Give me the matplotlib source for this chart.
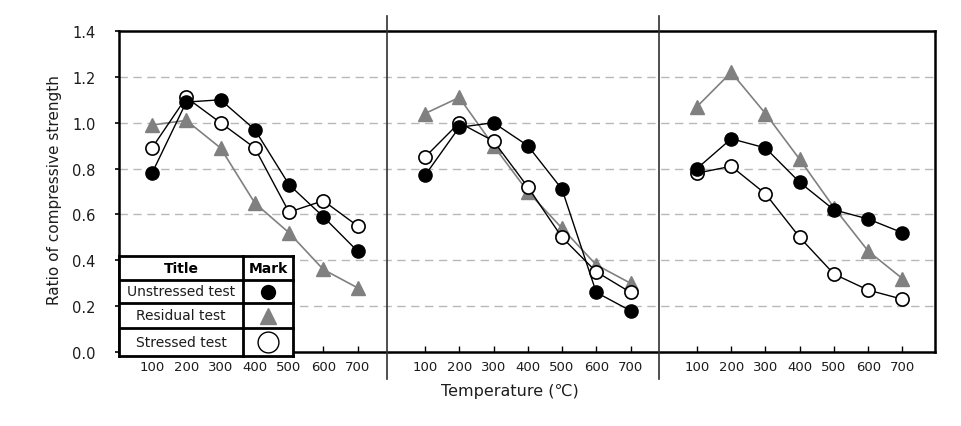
import numpy as np
import matplotlib.pyplot as plt
from matplotlib.lines import Line2D

# ---- data ----
temps = [100, 200, 300, 400, 500, 600, 700]

unstressed_1 = [0.78, 1.09, 1.10, 0.97, 0.73, 0.59, 0.44]
residual_1   = [0.99, 1.01, 0.89, 0.65, 0.52, 0.36, 0.28]
stressed_1   = [0.89, 1.11, 1.00, 0.89, 0.61, 0.66, 0.55]

unstressed_2 = [0.77, 0.98, 1.00, 0.90, 0.71, 0.26, 0.18]
residual_2   = [1.04, 1.11, 0.90, 0.70, 0.54, 0.38, 0.30]
stressed_2   = [0.85, 1.00, 0.92, 0.72, 0.50, 0.35, 0.26]

unstressed_3 = [0.80, 0.93, 0.89, 0.74, 0.62, 0.58, 0.52]
residual_3   = [1.07, 1.22, 1.04, 0.84, 0.63, 0.44, 0.32]
stressed_3   = [0.78, 0.81, 0.69, 0.50, 0.34, 0.27, 0.23]

series_names = ["Unstressed test", "Residual test", "Stressed test"]
y_ticks = [0.0, 0.2, 0.4, 0.6, 0.8, 1.0, 1.2, 1.4]

# layout of the three panels on one shared x axis
PANEL_OFFSET = [0, 797, 1591]
DIVIDERS = [786, 1580]
GRAY = "#808080"
TXT = "#1c1c1c"

W, H = 961, 427
fig = plt.figure(figsize=(W / 100, H / 100), dpi=100)
ax = fig.add_axes([119 / W, 1 - 353 / H, (935 - 119) / W, (353 - 32) / H])

panels = [
    (unstressed_1, residual_1, stressed_1),
    (unstressed_2, residual_2, stressed_2),
    (unstressed_3, residual_3, stressed_3),
]

t = np.array(temps)
for off, (un, re, st) in zip(PANEL_OFFSET, panels):
    x = t + off
    ax.plot(x, re, color=GRAY, lw=1.2, marker="^", ms=10.5, mfc=GRAY, mec=GRAY, zorder=3)
    ax.plot(x, st, color="black", lw=1.0, marker="o", ms=9.5, mfc="white", mec="black", mew=1.2, zorder=4)
    ax.plot(x, un, color="black", lw=1.0, marker="o", ms=9.5, mfc="black", mec="black", zorder=5)

ax.set_xlim(3.6, 2386)
ax.set_ylim(0, 1.4)

# grid
for g in y_ticks[1:-1]:
    ax.axhline(g, color="#b8b8b8", lw=1.0, ls=(0, (6, 4)), zorder=1)

# panel dividers, extending past the frame
for d in DIVIDERS:
    ax.plot([d, d], [-0.118, 1.465], color="#303030", lw=1.2, clip_on=False, zorder=6)

ax.set_yticks(y_ticks)
ax.set_yticklabels([f"{v:.1f}" for v in y_ticks], fontsize=10.5, color=TXT)
ax.tick_params(axis="y", direction="out", length=3, width=1.2, pad=14)

xt = [v + off for off in PANEL_OFFSET for v in temps]
ax.set_xticks(xt)
ax.set_xticklabels([str(v) for off in PANEL_OFFSET for v in temps], fontsize=9.5, color=TXT)
ax.tick_params(axis="x", direction="in", length=4, width=1.0, pad=6)

for s in ax.spines.values():
    s.set_linewidth(1.8)

fig.text(55 / W, 1 - 190 / H, "Ratio of compressive strength", rotation=90,
         ha="center", va="center", fontsize=11, color=TXT)
fig.text(510 / W, 1 - 392 / H, "Temperature (\u2103)", ha="center", va="center",
         fontsize=11.5, color=TXT)

# ---- legend table (drawn in pixel coords) ----
def fx(px):
    return px / W


def fy(py):
    return 1 - py / H


tl, tr, tc = 119, 293, 243
rows = [257, 281, 304, 329, 357]
fig.patches.append(plt.Rectangle((fx(tl), fy(rows[-1])), fx(tr) - fx(tl), fy(rows[0]) - fy(rows[-1]),
                                 transform=fig.transFigure, facecolor="white", edgecolor="none", zorder=7))
lw_tab = 2.0
for r in rows:
    fig.add_artist(Line2D([fx(tl), fx(tr)], [fy(r), fy(r)], color="black", lw=lw_tab, zorder=8))
for c in (tl, tc, tr):
    fig.add_artist(Line2D([fx(c), fx(c)], [fy(rows[0]), fy(rows[-1])], color="black", lw=lw_tab, zorder=8))

fig.text(fx((tl + tc) / 2), fy((rows[0] + rows[1]) / 2), "Title", ha="center", va="center",
         fontsize=10, fontweight="bold", zorder=9)
fig.text(fx((tc + tr) / 2), fy((rows[0] + rows[1]) / 2), "Mark", ha="center", va="center",
         fontsize=10, fontweight="bold", zorder=9)

mark_styles = [
    dict(marker="o", ms=10, mfc="black", mec="black"),
    dict(marker="^", ms=11, mfc=GRAY, mec=GRAY),
    dict(marker="o", ms=15, mfc="white", mec="black", mew=1.0),
]
for i, (name, st) in enumerate(zip(series_names, mark_styles)):
    yc = fy((rows[i + 1] + rows[i + 2]) / 2)
    fig.text(fx((tl + tc) / 2), yc, name, ha="center", va="center", fontsize=10, color=TXT, zorder=9)
    fig.add_artist(Line2D([fx((tc + tr) / 2)], [yc], ls="none", zorder=9, **st))

fig.savefig("out.png", dpi=100)
